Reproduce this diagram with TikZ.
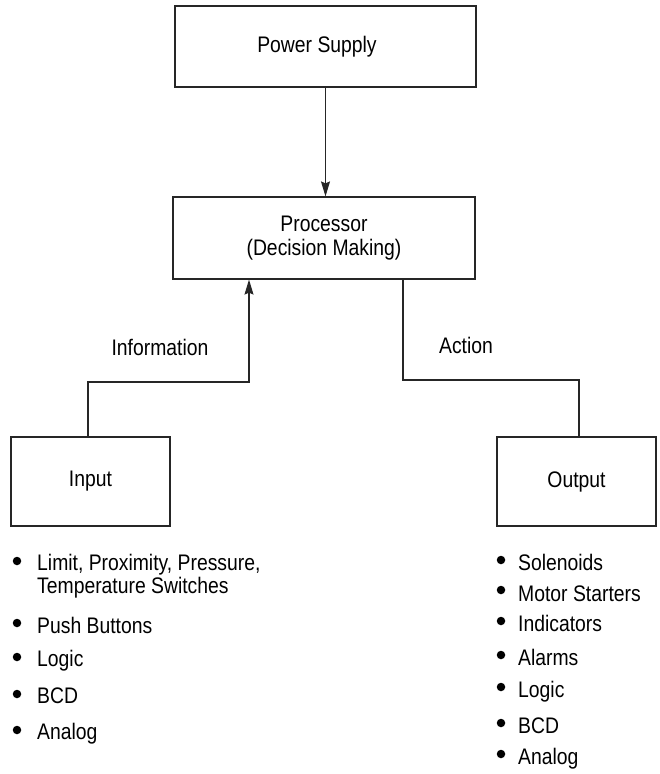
\documentclass[tikz,border=0pt]{standalone}
\usepackage{fontspec}
\setmainfont[FakeStretch=0.86]{Liberation Sans}
\usetikzlibrary{arrows.meta}
\begin{document}
\begin{tikzpicture}[x=1pt,y=-1pt,
  every node/.style={font=\fontsize{22.5}{24}\selectfont, inner sep=0pt},
  blk/.style={draw=black!85, line width=1.2pt, align=center},
  wire/.style={draw=black!85, line width=1.2pt},
  arr/.style={wire, -{Stealth[length=15pt,width=9pt,inset=2pt]}},
  dot/.style={circle, fill=black, minimum size=8.5pt, inner sep=0pt},
  item/.style={anchor=base west}]
\useasboundingbox (0,0) rectangle (659,774);

% blocks
\node[blk, minimum width=301pt, minimum height=81pt] (power) at (325.5,46.5) {};
\node (powerlabel) at (317,46.5) {Power Supply};
\node[blk, minimum width=302pt, minimum height=82pt] (proc) at (324,238) {Processor\\(Decision Making)};
\node[blk, minimum width=159pt, minimum height=89pt] (input) at (90.5,481.5) {Input};
\node[blk, minimum width=159pt, minimum height=89pt] (output) at (576.5,481.5) {Output};

% connectors
\draw[arr] (power.south) -- (power.south |- proc.north);

\coordinate (infoA) at (88,382);
\coordinate (infoB) at (249,382);
\draw[arr] (input.north -| infoA) -- (infoA) -- (infoB) -- (infoB |- proc.south);

\coordinate (actA) at (403,380);
\coordinate (actB) at (579,380);
\draw[wire] (proc.south -| actA) -- (actA) -- (actB) -- (actB |- output.north);

\node[anchor=base] (info) at (160,355) {Information};
\node[anchor=base] (action) at (466,353) {Action};

% input devices
\node[item] (i1) at (37,570) {Limit, Proximity, Pressure,};
\node[item] (i1b) at (37,593) {Temperature Switches};
\node[item] (i2) at (37,633) {Push Buttons};
\node[item] (i3) at (37,666) {Logic};
\node[item] (i4) at (37,703) {BCD};
\node[item] (i5) at (37,739) {Analog};
\node[dot] (di1) at (17,561) {};
\node[dot] (di2) at (17,623) {};
\node[dot] (di3) at (17,657) {};
\node[dot] (di4) at (17,694) {};
\node[dot] (di5) at (17,730) {};

% output devices
\node[item] (o1) at (518,570) {Solenoids};
\node[item] (o2) at (518,601) {Motor Starters};
\node[item] (o3) at (518,631) {Indicators};
\node[item] (o4) at (518,665) {Alarms};
\node[item] (o5) at (518,697) {Logic};
\node[item] (o6) at (518,733) {BCD};
\node[item] (o7) at (518,764) {Analog};
\node[dot] (do1) at (501,560) {};
\node[dot] (do2) at (501,590) {};
\node[dot] (do3) at (501,621) {};
\node[dot] (do4) at (501,655) {};
\node[dot] (do5) at (501,687) {};
\node[dot] (do6) at (501,723) {};
\node[dot] (do7) at (501,754) {};
\end{tikzpicture}
\end{document}
